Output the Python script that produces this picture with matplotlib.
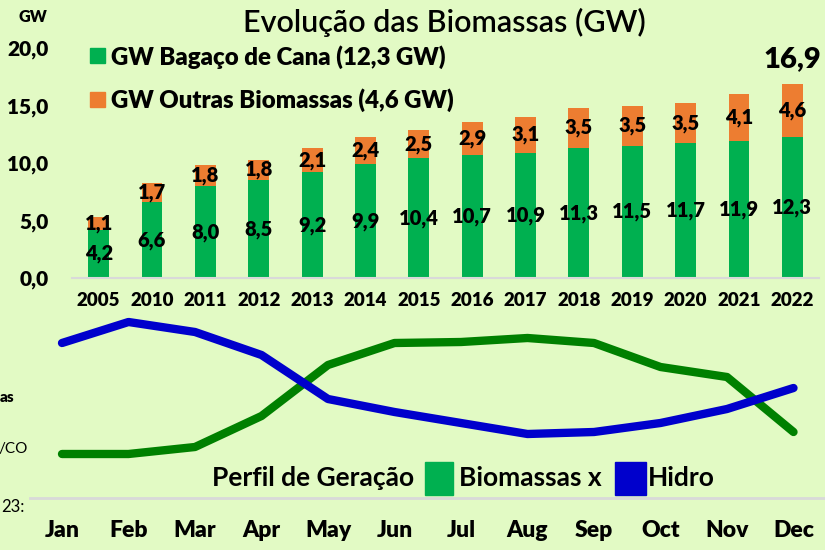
import matplotlib
matplotlib.use("Agg")
import matplotlib.pyplot as plt
from matplotlib.patches import Rectangle
from matplotlib.lines import Line2D
import numpy as np

plt.rcParams['font.family'] = ['Lato', 'DejaVu Sans']

# ---- data ----
years = ['2005', '2010', '2011', '2012', '2013', '2014', '2015', '2016',
         '2017', '2018', '2019', '2020', '2021', '2022']
bagaco = [4.2, 6.6, 8.0, 8.5, 9.2, 9.9, 10.4, 10.7, 10.9, 11.3, 11.5, 11.7, 11.9, 12.3]
outras = [1.1, 1.7, 1.8, 1.8, 2.1, 2.4, 2.5, 2.9, 3.1, 3.5, 3.5, 3.5, 4.1, 4.6]
yticks = [0, 5, 10, 15, 20]
ytick_labels = ['0,0', '5,0', '10,0', '15,0', '20,0']

months = ['Jan', 'Feb', 'Mar', 'Apr', 'May', 'Jun', 'Jul', 'Aug', 'Sep', 'Oct', 'Nov', 'Dec']
hidro = [127, 148, 138, 115, 71, 58, 47, 36, 38, 47, 61, 82]
biomassas = [16, 16, 23, 54, 105, 127, 128, 132, 127, 103, 93, 38]

BG = '#E2FAC4'
GREEN = '#00B050'
ORANGE = '#ED7D31'
LINE_GREEN = '#008000'
BLUE = '#0000CC'
BW = 'heavy'

W, H = 825, 550
fig = plt.figure(figsize=(W / 100, H / 100), dpi=100)
fig.patch.set_facecolor(BG)

def fx(px):
    return px / W

def fy(py):
    return 1 - py / H

# ---- upper bar chart ----
ax = fig.add_axes([fx(72), fy(278), fx(819) - fx(72), fy(48) - fy(278)])
ax.set_facecolor('none')
x = np.arange(len(years))
ax.bar(x, bagaco, width=0.39, color=GREEN, zorder=2)
ax.bar(x, outras, width=0.39, bottom=bagaco, color=ORANGE, zorder=2)
ax.set_xlim(-0.5, len(years) - 0.5)
ax.set_ylim(0, 20)
for s in ['top', 'right', 'left']:
    ax.spines[s].set_visible(False)
ax.spines['bottom'].set_color('#D9D9D9')
ax.spines['bottom'].set_linewidth(1.5)
ax.set_xticks(x)
ax.set_xticklabels(years, fontsize=13.5, fontweight=BW)
ax.set_yticks(yticks)
ax.set_yticklabels(ytick_labels, fontsize=15, fontweight=BW)
ax.tick_params(axis='both', length=0)
ax.tick_params(axis='x', pad=10)
ax.tick_params(axis='y', pad=17)

for i in range(len(years)):
    ax.text(x[i], bagaco[i] / 2, f"{bagaco[i]:.1f}".replace('.', ','),
            ha='center', va='center', fontsize=14.5, fontweight=BW, zorder=3)
    ax.text(x[i], bagaco[i] + outras[i] / 2, f"{outras[i]:.1f}".replace('.', ','),
            ha='center', va='center', fontsize=14.5, fontweight=BW, zorder=3)
total_last = bagaco[-1] + outras[-1]
ax.annotate(f"{total_last:.1f}".replace('.', ','), xy=(x[-1], total_last),
            xytext=(0, 18), textcoords='offset points', ha='center', va='center',
            fontsize=21, fontweight=BW, annotation_clip=False)

fig.text(fx(33), fy(17), 'GW', ha='center', va='center', fontsize=11.5, fontweight=BW)
fig.text(fx(444), fy(22), 'Evolução das Biomassas (GW)', ha='center', va='center',
         fontsize=22, fontweight='semibold')

# upper legend
fig.patches.append(Rectangle((fx(90), fy(63)), fx(15), fy(48) - fy(63),
                             transform=fig.transFigure, color=GREEN))
fig.text(fx(111), fy(57), 'GW Bagaço de Cana (12,3 GW)', ha='left', va='center',
         fontsize=17.3, fontweight=BW)
fig.patches.append(Rectangle((fx(90), fy(107)), fx(15), fy(92) - fy(107),
                             transform=fig.transFigure, color=ORANGE))
fig.text(fx(111), fy(100), 'GW Outras Biomassas (4,6 GW)', ha='left', va='center',
         fontsize=17.3, fontweight=BW)

# ---- lower line chart ----
ax2 = fig.add_axes([fx(62), fy(498), fx(793.5) - fx(62), fy(310) - fy(498)])
ax2.set_facecolor('none')
m = np.arange(len(months))
ax2.plot(m, hidro, color=BLUE, lw=6, solid_capstyle='round', clip_on=False, zorder=3)
ax2.plot(m, biomassas, color=LINE_GREEN, lw=6, solid_capstyle='round', clip_on=False, zorder=2)
ax2.set_xlim(0, len(months) - 1)
ax2.set_ylim(-28, 160)
for s in ax2.spines.values():
    s.set_visible(False)
ax2.set_yticks([])
ax2.set_xticks(m)
ax2.set_xticklabels(months, fontsize=16.5, fontweight=BW)
ax2.tick_params(axis='x', length=0, pad=16)

fig.add_artist(Line2D([fx(30), fx(825)], [fy(498), fy(498)], transform=fig.transFigure,
                      color='#D9D9D9', lw=2))

# lower legend
fig.text(fx(212), fy(478), 'Perfil de Geração', ha='left', va='center',
         fontsize=19, fontweight='bold')
fig.patches.append(Rectangle((fx(425), fy(495)), fx(28), fy(462) - fy(495),
                             transform=fig.transFigure, color=GREEN))
fig.text(fx(459), fy(478), 'Biomassas x', ha='left', va='center',
         fontsize=19, fontweight='bold')
fig.patches.append(Rectangle((fx(615), fy(495)), fx(31), fy(462) - fy(495),
                             transform=fig.transFigure, color=BLUE))
fig.text(fx(648), fy(478), 'Hidro', ha='left', va='center',
         fontsize=19, fontweight='bold')

# cut-off fragments at the left edge
fig.text(fx(0), fy(397), 'as', ha='left', va='center', fontsize=11, fontweight=BW)
fig.text(fx(28), fy(449), '/CO', ha='right', va='center', fontsize=11)
fig.text(fx(25), fy(507), '23:', ha='right', va='center', fontsize=12)

fig.savefig('out.png', dpi=100, facecolor=BG)
